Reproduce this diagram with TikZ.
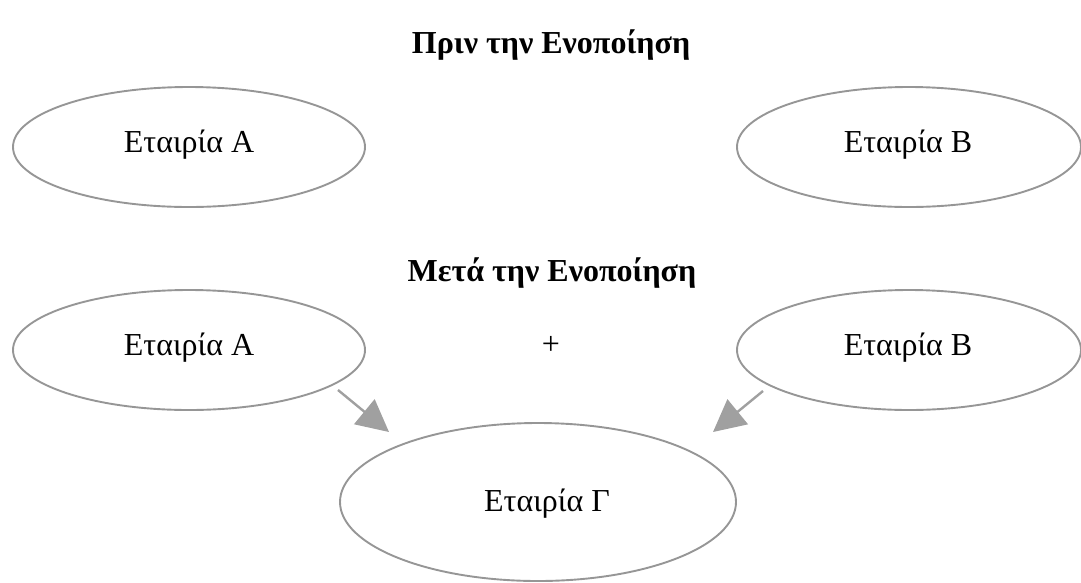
\documentclass[tikz,border=0pt]{standalone}
\usepackage{fontspec}
\setmainfont{Liberation Serif}
\usetikzlibrary{shapes.geometric,arrows.meta}
\definecolor{edgegray}{RGB}{150,150,150}
\definecolor{arrowgray}{RGB}{160,160,160}
\tikzset{
  firm/.style={draw=edgegray, line width=1.9pt, ellipse, minimum width=#1, inner sep=0pt},
  firmlbl/.style={font=\fontsize{32}{38}\selectfont, text=black},
  ttl/.style={font=\bfseries\fontsize{32}{38}\selectfont, text=black},
  link/.style={draw=arrowgray, line width=2.4pt, -{Triangle[length=32pt,width=32pt]}}
}
\begin{document}
\begin{tikzpicture}[x=1pt,y=-1pt]
\useasboundingbox (0,0) rectangle (1081,582);
% titles
\node[ttl] (t1) at (551,45) {Πριν την Ενοποίηση};
\node[ttl] (t2) at (552,273) {Μετά την Ενοποίηση};
% before
\node[firm=352pt, minimum height=120pt] (a1) at (189,147) {};
\node[firmlbl] at (189,145) {Εταιρία Α};
\node[firm=344pt, minimum height=120pt] (b1) at (909,147) {};
\node[firmlbl] at (908,145) {Εταιρία Β};
% after
\node[firm=352pt, minimum height=120pt] (a2) at (189,350) {};
\node[firmlbl] at (189,348) {Εταιρία Α};
\node[firm=344pt, minimum height=120pt] (b2) at (909,350) {};
\node[firmlbl] at (908,348) {Εταιρία Β};
\node[firmlbl] (plus) at (551,345) {+};
\node[firm=396pt, minimum height=158pt] (c) at (538,502) {};
\node[firmlbl] at (547,504) {Εταιρία Γ};
% arrows
\coordinate (a2out) at (338,390);
\coordinate (cinl) at (389,432);
\coordinate (b2out) at (763,391);
\coordinate (cinr) at (713,432);
\draw[link] (a2out) -- (cinl);
\draw[link] (b2out) -- (cinr);
\end{tikzpicture}
\end{document}
